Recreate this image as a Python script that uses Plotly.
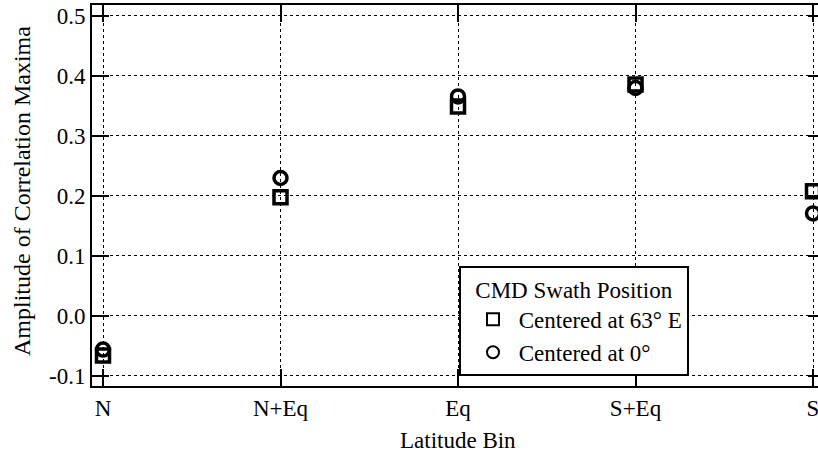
import plotly.graph_objects as go

categories = ["N", "N+Eq", "Eq", "S+Eq", "S"]
centered_63E = [-0.066, 0.198, 0.349, 0.386, 0.208]
centered_0 = [-0.056, 0.230, 0.366, 0.380, 0.171]
y_tickvals = [-0.1, 0.0, 0.1, 0.2, 0.3, 0.4, 0.5]
y_ticktext = ["-0.1", "0.0", "0.1", "0.2", "0.3", "0.4", "0.5"]
legend_title = "CMD Swath Position"
series_names = ["Centered at 63° E", "Centered at 0°"]

FONT = "Liberation Serif"
FS = 23
W, H = 818, 455
ML, MR, MT, MB = 92, 0, 5, 69

xpos = list(range(len(categories)))

fig = go.Figure()
fig.add_trace(go.Scatter(
    x=xpos, y=centered_63E, mode="markers", name="\u00a0" + series_names[0],
    marker=dict(symbol="square-open", size=13, color="black",
                line=dict(width=3.5, color="black")),
))
fig.add_trace(go.Scatter(
    x=xpos, y=centered_0, mode="markers", name="\u00a0" + series_names[1],
    marker=dict(symbol="circle-open", size=13, color="black",
                line=dict(width=3.5, color="black")),
))

# mirrored ticks on the right side (the right frame lies just outside the picture)
shapes = []
for v in y_tickvals:
    shapes.append(dict(type="line", xref="paper", yref="y",
                       x0=1 - 10 / (W - ML - MR), x1=1, y0=v, y1=v,
                       line=dict(color="black", width=2)))

fig.update_layout(
    width=W, height=H,
    margin=dict(l=ML, r=MR, t=MT, b=MB),
    paper_bgcolor="white", plot_bgcolor="white",
    font=dict(family=FONT, size=FS, color="black"),
    showlegend=True,
    legend=dict(
        title=dict(text=legend_title, side="top center",
                   font=dict(family=FONT, size=FS, color="black")),
        x=(459 - ML) / (W - ML - MR), xanchor="left",
        y=(H - MB - 266) / (H - MB - MT), yanchor="top",
        bgcolor="white", bordercolor="black", borderwidth=2,
        font=dict(family=FONT, size=FS, color="black"),
        tracegroupgap=0, itemsizing="constant", indentation=12,
    ),
    xaxis=dict(
        range=[-0.062, -0.062 + (W - ML - MR) / 177.5],
        tickmode="array", tickvals=xpos, ticktext=categories,
        ticks="inside", ticklen=17, tickwidth=2, tickcolor="black",
        showline=True, linecolor="black", linewidth=2, mirror="ticks",
        showgrid=True, gridcolor="black", gridwidth=1, griddash="3px,3px",
        zeroline=False, ticklabeloverflow="allow",
        tickfont=dict(family=FONT, size=FS, color="black"),
    ),
    yaxis=dict(
        range=[-0.1167, 0.5183],
        tickmode="array", tickvals=y_tickvals, ticktext=y_ticktext,
        ticks="inside", ticklen=17, tickwidth=2, tickcolor="black",
        showline=True, linecolor="black", linewidth=2, mirror=False,
        showgrid=True, gridcolor="black", gridwidth=1, griddash="3px,3px",
        zeroline=False, ticklabeloverflow="allow",
        tickfont=dict(family=FONT, size=FS, color="black"),
    ),
    shapes=shapes,
    annotations=[
        dict(text="Latitude Bin", xref="paper", yref="paper",
             x=(458 - ML) / (W - ML - MR), y=-(440 - (H - MB)) / (H - MB - MT),
             xanchor="center", yanchor="middle", showarrow=False,
             font=dict(family=FONT, size=FS, color="black")),
        dict(text="Amplitude of Correlation Maxima", xref="paper", yref="paper",
             x=-(ML - 22) / (W - ML - MR), y=((H - MB) - 191) / (H - MB - MT),
             xanchor="center", yanchor="middle", textangle=-90, showarrow=False,
             font=dict(family=FONT, size=24, color="black")),
    ],
)

fig.write_html("out.html")
